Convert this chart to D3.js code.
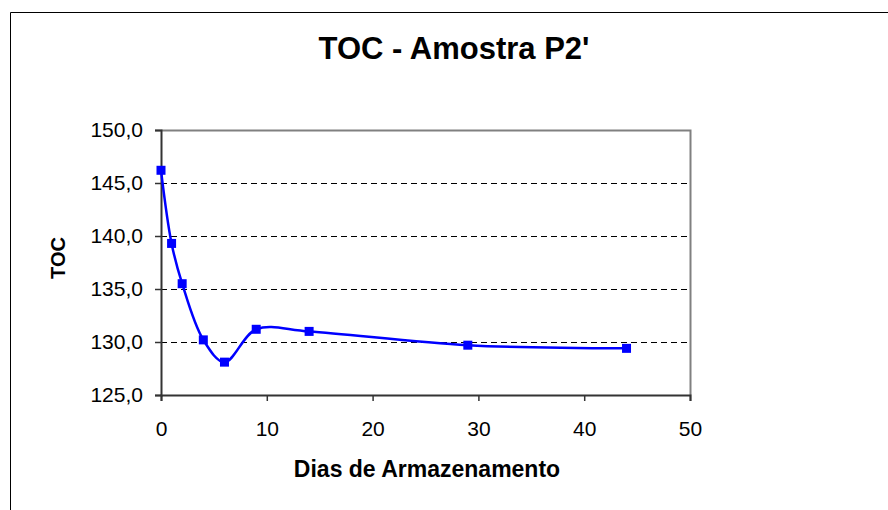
<!DOCTYPE html>
<html>
<head>
<meta charset="utf-8">
<script src="https://cdn.jsdelivr.net/npm/d3@7"></script>
<style>
  body { margin: 0; background: #fff; }
  svg { display: block; font-family: "Liberation Sans", Arial, sans-serif; }
</style>
</head>
<body>
<div id="chart"></div>
<script>
// data
var dias = [0, 1, 2, 4, 6, 9, 14, 29, 44];
var toc = [146.2, 139.3, 135.5, 130.2, 128.1, 131.2, 131.0, 129.7, 129.4];
var xTicks = [0, 10, 20, 30, 40, 50];
var yTicks = [125, 130, 135, 140, 145, 150];

var svgWidth = 888;
var svgHeight = 510;
var plotLeft = 161;
var plotRight = 690;
var plotTop = 130;
var plotBottom = 395;

var svg = d3.select("#chart")
    .append("svg")
    .attr("width", svgWidth)
    .attr("height", svgHeight);

// outer frame
svg.append("path")
    .attr("d", "M10.5,510 V12.5 H888")
    .attr("fill", "none")
    .attr("stroke", "#000")
    .attr("stroke-width", 1);

var xScale = d3.scaleLinear().domain([0, 50]).range([plotLeft, plotRight]);
var yScale = d3.scaleLinear().domain([125, 150]).range([plotBottom, plotTop]);

// gridlines
svg.append("g").selectAll("line")
    .data(yTicks.filter(d => d > 125 && d < 150))
    .enter()
    .append("line")
    .attr("x1", plotLeft)
    .attr("x2", plotRight)
    .attr("y1", d => Math.round(yScale(d)) + 0.5)
    .attr("y2", d => Math.round(yScale(d)) + 0.5)
    .attr("stroke", "#000")
    .attr("stroke-dasharray", "6,4");

// plot border (top/right gray)
svg.append("path")
    .attr("d", `M${plotLeft},${plotTop + 0.5} H${plotRight + 0.5} V${plotBottom}`)
    .attr("fill", "none")
    .attr("stroke", "#808080")
    .attr("stroke-width", 2);

var xAxisCall = d3.axisBottom(xScale)
    .tickValues(xTicks)
    .tickSize(6)
    .tickPadding(20)
    .tickFormat(d3.format("d"));

var yAxisCall = d3.axisLeft(yScale)
    .tickValues(yTicks)
    .tickSize(6)
    .tickPadding(12)
    .tickFormat(d => d.toFixed(1).replace(".", ","));

var xAxisGroup = svg.append("g")
    .attr("transform", `translate(0,${plotBottom})`)
    .call(xAxisCall);
var yAxisGroup = svg.append("g")
    .attr("transform", `translate(${plotLeft},0)`)
    .call(yAxisCall);

[xAxisGroup, yAxisGroup].forEach(g => {
    g.select(".domain").attr("stroke", "#333").attr("stroke-width", 2);
    g.selectAll(".tick line").attr("stroke", "#333").attr("stroke-width", 1.5);
    g.selectAll("text")
        .attr("font-family", "Liberation Sans, Arial, sans-serif")
        .attr("font-size", "21px")
        .attr("fill", "#000");
});

// smoothed line
var line = d3.line()
    .x(d => xScale(d[0]))
    .y(d => yScale(d[1]))
    .curve(d3.curveCatmullRom.alpha(0.5));

var pts = dias.map((d, i) => [d, toc[i]]);

svg.append("path")
    .datum(pts)
    .attr("d", line)
    .attr("fill", "none")
    .attr("stroke", "#0000ff")
    .attr("stroke-width", 2.5);

svg.append("g").selectAll("rect")
    .data(pts)
    .enter()
    .append("rect")
    .attr("x", d => xScale(d[0]) - 4.5)
    .attr("y", d => yScale(d[1]) - 4.5)
    .attr("width", 9)
    .attr("height", 9)
    .attr("fill", "#0000ff");

// titles
svg.append("text")
    .attr("x", 454)
    .attr("y", 59)
    .attr("text-anchor", "middle")
    .attr("font-size", "31px")
    .attr("font-weight", "bold")
    .text("TOC - Amostra P2'");

svg.append("text")
    .attr("x", 427)
    .attr("y", 477)
    .attr("text-anchor", "middle")
    .attr("font-size", "23px")
    .attr("font-weight", "bold")
    .text("Dias de Armazenamento");

svg.append("text")
    .attr("transform", "translate(65,258) rotate(-90)")
    .attr("text-anchor", "middle")
    .attr("font-size", "20px")
    .attr("font-weight", "bold")
    .text("TOC");
</script>
</body>
</html>
